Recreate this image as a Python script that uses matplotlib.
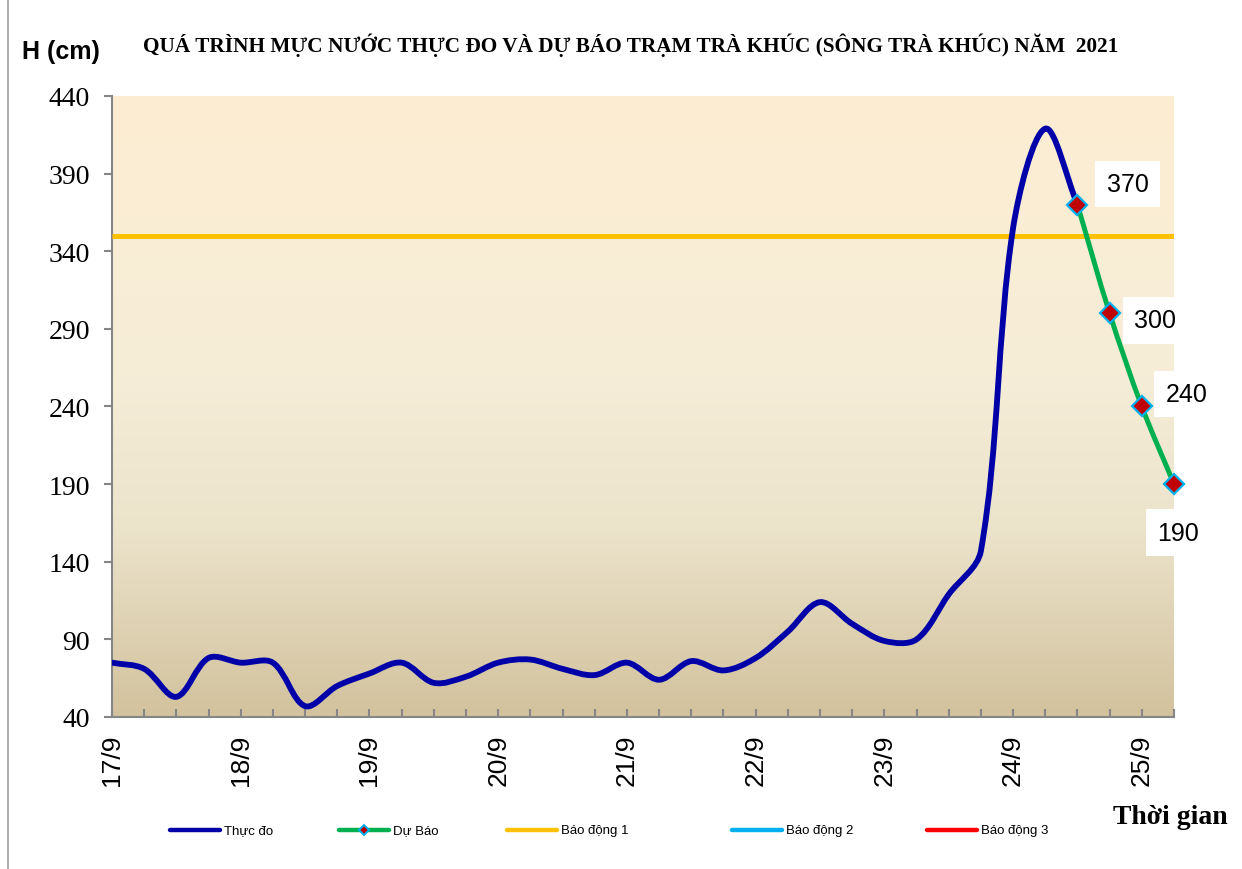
import numpy as np
import matplotlib
matplotlib.use('Agg')
import matplotlib.pyplot as plt
from matplotlib.path import Path
from matplotlib.patches import PathPatch
from matplotlib.lines import Line2D
from matplotlib.colors import LinearSegmentedColormap
from matplotlib.transforms import IdentityTransform

# ---------------- data ----------------
day_labels = ['17/9', '18/9', '19/9', '20/9', '21/9', '22/9', '23/9', '24/9', '25/9']
steps_per_day = 4          # readings every 6 hours
n_steps = 33               # x-axis length in 6-hour steps
observed = [75, 71, 53, 78, 75, 75, 47, 60, 68, 75, 62, 66,
            75, 77, 71, 67, 75, 64, 76, 70, 78, 95, 114, 100,
            89, 90, 119, 147, 355, 419, 370]
forecast_start = 30
forecast = [370, 300, 240, 190]
forecast_labels = ['370', '300', '240', '190']
alarm1 = 350
y_ticks = list(range(40, 441, 50))

title = 'QUÁ TRÌNH MỰC NƯỚC THỰC ĐO VÀ DỰ BÁO TRẠM TRÀ KHÚC (SÔNG TRÀ KHÚC) NĂM  2021'
legend_names = ['Thực đo', 'Dự Báo', 'Báo động 1', 'Báo động 2', 'Báo động 3']

# ---------------- style ----------------
C_OBS = '#0000A8'
C_FC = '#00B050'
C_A1 = '#FFC000'
C_A2 = '#00B0F0'
C_A3 = '#FF0000'
C_MK = '#C00000'
GRAY = '#868686'

W, H = 1242, 870
fig = plt.figure(figsize=(W / 100, H / 100), dpi=100)
fig.patch.set_facecolor('white')

L, R, T, B = 112, 1174, 97, 718
ax = fig.add_axes([L / W, 1 - B / H, (R - L) / W, (B - T) / H])
ax.set_xlim(0, n_steps)
ax.set_ylim(40, 440)

# gradient background (top light, bottom tan)
cmap = LinearSegmentedColormap.from_list('bg', [
    (0.0, '#FDEED2'), (0.45, '#F6EDD8'), (0.70, '#ECE3CB'), (1.0, '#D2C29D')])
grad = np.linspace(0, 1, 256).reshape(-1, 1)
ax.imshow(grad, extent=[0, n_steps, 40, 440], aspect='auto', cmap=cmap,
          zorder=0, origin='upper', interpolation='bilinear')
ax.set_xlim(0, n_steps)
ax.set_ylim(40, 440)

for s in ['top', 'right']:
    ax.spines[s].set_visible(False)
for s in ['left', 'bottom']:
    ax.spines[s].set_color(GRAY)
    ax.spines[s].set_linewidth(1.5)

ax.set_yticks(y_ticks)
ax.set_yticklabels([str(v) for v in y_ticks], family='Liberation Serif', fontsize=20)
ax.tick_params(axis='y', direction='out', length=6, width=1.5, color=GRAY, pad=10)

major_x = [i * steps_per_day for i in range(len(day_labels))]
ax.set_xticks(major_x)
ax.set_xticklabels(day_labels, rotation=90, family='Liberation Sans', fontsize=19)
ax.set_xticks(list(range(0, n_steps + 1)), minor=True)
ax.tick_params(axis='x', which='both', direction='in', length=6, width=1.5, color=GRAY, pad=12)


def smooth_path(ax, xs, ys):
    pts = ax.transData.transform(np.column_stack([xs, ys]))
    n = len(pts)
    verts = [pts[0]]
    codes = [Path.MOVETO]
    for i in range(n - 1):
        p0 = pts[i - 1] if i > 0 else pts[i]
        p1 = pts[i]
        p2 = pts[i + 1]
        p3 = pts[i + 2] if i + 2 < n else pts[i + 1]
        d01 = np.hypot(*(p1 - p0))
        d12 = np.hypot(*(p2 - p1))
        d23 = np.hypot(*(p3 - p2))
        c1 = p1 + (p2 - p0) * (d12 / (d01 + d12)) / 3
        c2 = p2 - (p3 - p1) * (d12 / (d12 + d23)) / 3
        verts += [c1, c2, p2]
        codes += [Path.CURVE4] * 3
    inv = ax.transData.inverted()
    return Path(inv.transform(np.array(verts)), codes)


# alarm line
ax.plot([0, n_steps], [alarm1, alarm1], color=C_A1, lw=3.6, zorder=3, solid_capstyle='butt')

# observed
x_obs = np.arange(len(observed))
ax.add_patch(PathPatch(smooth_path(ax, x_obs, observed), facecolor='none',
                       edgecolor=C_OBS, lw=4.2, zorder=4, capstyle='round', joinstyle='round'))

# forecast
x_fc = np.arange(forecast_start, forecast_start + len(forecast))
ax.add_patch(PathPatch(smooth_path(ax, x_fc, forecast), facecolor='none',
                       edgecolor=C_FC, lw=3.6, zorder=5, capstyle='round', joinstyle='round'))
ax.plot(x_fc, forecast, linestyle='none', marker='D', markersize=10,
        markerfacecolor=C_MK, markeredgecolor=C_A2, markeredgewidth=1.6, zorder=6, clip_on=False)

# data labels (offsets in points)
offsets = [(36, 15), (33, -5), (32, 9), (3, -35)]
for xv, yv, lab, off in zip(x_fc, forecast, forecast_labels, offsets):
    ax.annotate(lab, (xv, yv), xytext=off, textcoords='offset points',
                ha='center', va='center', family='Liberation Sans', fontsize=18,
                bbox=dict(boxstyle='square,pad=0.45', fc='white', ec='none'),
                zorder=7, annotation_clip=False)

# titles
idt = IdentityTransform()
fig.text(631, H - 45, title, transform=idt, ha='center', va='center',
         family='Liberation Serif', fontweight='bold', fontsize=15.3)
fig.text(22, H - 52, 'H (cm)', transform=idt, ha='left', va='center',
         family='Liberation Sans', fontweight='bold', fontsize=18)
fig.text(1228, H - 818, 'Thời gian', transform=idt, ha='right', va='center',
         family='Liberation Serif', fontweight='bold', fontsize=20)

# left border of chart area
fig.add_artist(Line2D([8, 8], [0, H], transform=idt, color='#A0A0A0', lw=1.2))

# legend (manual)
leg_y = H - 831
leg_items = [
    (170, C_OBS, False),
    (339, C_FC, True),
    (507, C_A1, False),
    (732, C_A2, False),
    (927, C_A3, False),
]
for (x0, col, mk), name in zip(leg_items, legend_names):
    fig.add_artist(Line2D([x0, x0 + 50], [leg_y, leg_y], transform=idt, color=col, lw=3.2,
                          solid_capstyle='round'))
    if mk:
        fig.add_artist(Line2D([x0 + 25], [leg_y], transform=idt, marker='D', markersize=5,
                              markerfacecolor=C_MK, markeredgecolor=C_A2, markeredgewidth=1.4,
                              linestyle='none'))
    fig.text(x0 + 54, leg_y, name, transform=idt, ha='left', va='center',
             family='Liberation Sans', fontsize=9.5)

fig.savefig('out.png', dpi=100, facecolor='white')
